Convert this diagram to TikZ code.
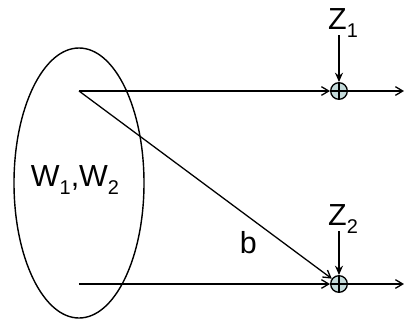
\documentclass[tikz,border=0pt]{standalone}
\usepackage{fontspec}
\setmainfont{Liberation Sans}
\usetikzlibrary{positioning, arrows.meta, calc, shapes.geometric}
\definecolor{sumfill}{RGB}{196,218,218}
\newcommand{\idx}[1]{\raisebox{-0.45ex}{\fontsize{17}{17}\selectfont #1}}

\begin{document}
\begin{tikzpicture}[
    x=0.03cm, y=-0.03cm,
    line width=1.1pt,
    lbl/.style={font=\fontsize{26}{30}\selectfont, inner sep=1pt},
    weights/.style={ellipse, draw, line width=1.2pt, minimum width=3.9cm, minimum height=8.1cm, inner sep=0pt},
    sum/.style={circle, draw, fill=sumfill, minimum size=0.5cm, inner sep=0pt,
        path picture={\draw (path picture bounding box.north) -- (path picture bounding box.south)
                            (path picture bounding box.west) -- (path picture bounding box.east);}},
    arrow/.style={-{Straight Barb[length=2.2mm, width=2.6mm]}},
    zarrow/.style={-{Stealth[length=2.8mm, width=2.4mm]}},
]
\useasboundingbox (0,0) rectangle (406,324);

% Weights (text sits a bit left of the ellipse centre)
\node[weights] (wts) at (79,183) {};
\node[lbl] (wlabel) at (75,180) {W\idx{1},W\idx{2}};

% Starting points inside the ellipse
\coordinate (s1) at (79,91);
\coordinate (s2) at (79,284);

% Summing junctions
\node[sum] (sum1) at (339,91) {};
\node[sum] (sum2) at (339,284) {};

% Noise inputs
\node[lbl] (z1) at (343,23) {Z\idx{1}};
\node[lbl] (z2) at (343,219) {Z\idx{2}};

% Outputs
\coordinate (o1) at (404,91);
\coordinate (o2) at (404,284);

%% === Arrows ===
\draw[arrow] (s1) -- (sum1);
\draw[arrow] (s2) -- (sum2);
\draw[arrow] (s1) -- node[lbl, pos=0.67, below=0.38cm] (b) {b} (sum2);
\draw[zarrow] ([yshift=3pt]z1.south -| sum1) -- (sum1);
\draw[zarrow] ([yshift=3pt]z2.south -| sum2) -- (sum2);
\draw[arrow] (sum1) -- (o1);
\draw[arrow] (sum2) -- (o2);

\end{tikzpicture}
\end{document}
